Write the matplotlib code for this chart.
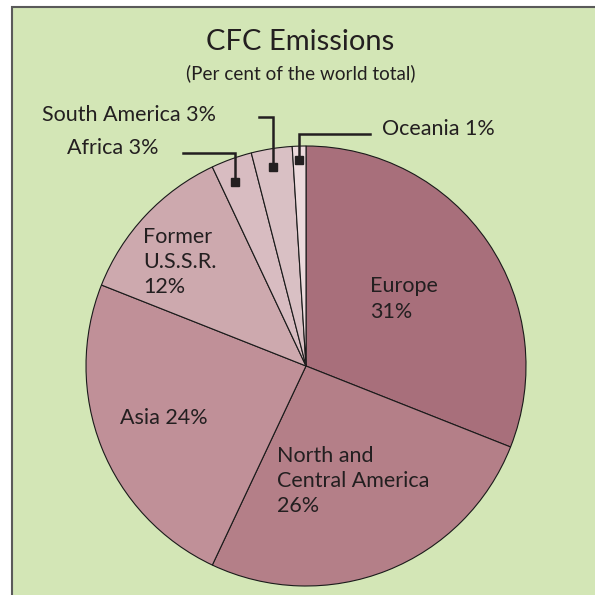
import matplotlib.pyplot as plt
from matplotlib.patches import Rectangle

# CFC emissions by region, per cent of world total (clockwise from 12 o'clock)
regions = ["Europe", "North and Central America", "Asia", "Former U.S.S.R.",
           "Africa", "South America", "Oceania"]
shares = [31, 26, 24, 12, 3, 3, 1]
colors = ["#a86f7b", "#b47f88", "#c09098", "#cda9ae", "#d8bcc1", "#d9c0c4", "#ecdadc"]

bg = "#d3e6b6"
ink = "#231f20"
plt.rcParams['font.family'] = ['Lato', 'DejaVu Sans']

fig = plt.figure(figsize=(5.95, 5.95), dpi=100)
ax = fig.add_axes([0, 0, 1, 1])

# panel background with its frame running off the right and bottom
ax.add_patch(Rectangle((12, -20), 620, 608, facecolor=bg, edgecolor="#5a5a5a", lw=1.5))

cx, cy, r = 306, 595 - 366, 220
ax.pie(shares, colors=colors, startangle=90, counterclock=False,
       center=(cx, cy), radius=r, frame=True,
       wedgeprops=dict(edgecolor="#1a1a1a", linewidth=0.8))
ax.set_xlim(0, 595)
ax.set_ylim(0, 595)
ax.set_aspect('equal')
ax.axis('off')

def Y(y):
    return 595 - y

ax.text(300, Y(42), "CFC Emissions", ha='center', va='center', fontsize=21, color=ink)
ax.text(301, Y(73), "(Per cent of the world total)", ha='center', va='center', fontsize=13.6, color=ink)

lab = dict(fontsize=15.5, color=ink, va='center', ha='left', linespacing=1.32)
ax.text(370, Y(299), f"{regions[0]}\n{shares[0]}%", **lab)
ax.text(277, Y(481), f"North and\nCentral America\n{shares[1]}%", **lab)
ax.text(120, Y(418), f"{regions[2]} {shares[2]}%", **lab)
ax.text(143, Y(262), f"Former\nU.S.S.R.\n{shares[3]}%", **lab)
ax.text(67, Y(148), f"{regions[4]} {shares[4]}%", **lab)
ax.text(42, Y(115), f"{regions[5]} {shares[5]}%", **lab)
ax.text(382, Y(129), f"{regions[6]} {shares[6]}%", **lab)

# leader lines for the small slices
leaders = [
    [(183, 153), (235, 153), (235, 182)],
    [(259, 117), (273, 117), (273, 167)],
    [(370, 134), (299, 134), (299, 160)],
]
for pts in leaders:
    xs = [p[0] for p in pts]
    ys = [Y(p[1]) for p in pts]
    ax.plot(xs, ys, color=ink, lw=1.8, solid_joinstyle='miter')
    ax.plot(xs[-1], ys[-1], marker='s', ms=6, color=ink)

fig.savefig("out.png", dpi=100, facecolor="white")
